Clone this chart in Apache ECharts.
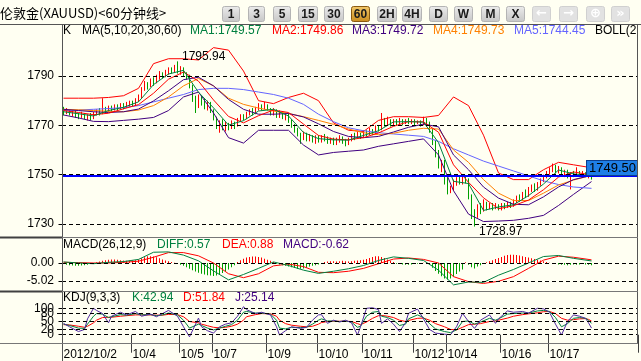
<!DOCTYPE html>
<html><head><meta charset="utf-8">
<script src="https://cdn.jsdelivr.net/npm/echarts@6/dist/echarts.min.js"></script>
<style>html,body{margin:0;padding:0;background:#fffff2;}#c{width:641px;height:361px;}</style>
</head><body><div id="c"></div>
<script>
// ---------- DATA ----------
const title = '伦敦金(XAUUSD)<60分钟线>';
const periodButtons = ['1','3','5','15','30','60','2H','4H','D','W','M','X'];
const activeButton = '60';
// candles: [open, close, low, high]
const candles = [
[1776,1775,1774,1777.5],[1775,1776,1774.5,1777],[1776,1774.5,1774,1776.5],[1774.5,1775.5,1773.5,1776],[1775.5,1774,1773,1776],
[1774,1773.5,1772.5,1775],[1773.5,1774.5,1773,1775.5],[1774.5,1773,1772.5,1775],[1773,1774,1772,1774.5],[1774,1773,1772,1775],
[1773,1774.5,1772.5,1775.5],[1774.5,1775.5,1774,1776.5],[1775.5,1775,1774,1777],[1775,1776.5,1774.5,1781],[1776.5,1776,1775,1777.5],
[1776,1777,1775.5,1778],[1777,1776.5,1775.5,1778],[1776.5,1777.5,1776,1778.5],[1777.5,1777,1776,1778.5],[1777,1778,1776.5,1779],
[1778,1777.5,1776.5,1779],[1777.5,1778.5,1777,1779.5],[1778.5,1779,1777.5,1780],[1779,1778.5,1777.5,1780],[1778.5,1780,1778,1781],
[1780,1781.5,1779.5,1782.5],[1781.5,1784.5,1781,1785.5],[1784.5,1786.5,1784,1788],[1786.5,1786,1784.5,1787.5],[1786,1788,1785.5,1789],
[1788,1787.5,1786,1789.5],[1787.5,1789.5,1787,1790.5],[1789.5,1790.5,1788.5,1792],[1790.5,1790,1789,1791.5],[1790,1791.5,1789.5,1792.5],
[1791.5,1792.5,1790.5,1793.5],[1792.5,1792,1791,1793.5],[1792,1793.5,1791.5,1794.5],[1793.5,1792,1791,1795.94],[1792,1793,1790.5,1794],
[1793,1791,1790,1793.5],[1791,1790,1788.5,1791.5],[1790,1786,1785,1790.5],[1786,1781,1779.5,1786.5],[1781,1779,1775,1782],
[1779,1781,1777,1782.5],[1781,1779.5,1778,1782],[1779.5,1778,1776.5,1781],[1778,1779,1776,1780],[1779,1776,1775,1779.5],
[1776,1773,1772,1776.5],[1773,1770,1768.5,1773.5],[1770,1771.5,1767,1772],[1771.5,1769,1768,1772.5],[1769,1770.5,1767.5,1771.5],
[1770.5,1769.5,1768,1771],[1769.5,1771,1768.5,1772],[1771,1770,1768.5,1771.5],[1770,1772,1769.5,1773],[1772,1773.5,1771.5,1774.5],
[1773.5,1773,1772,1774.5],[1773,1774.5,1772.5,1775.5],[1774.5,1775.5,1774,1776.5],[1775.5,1775,1774,1777],[1775,1776.5,1774.5,1777.5],
[1776.5,1777.5,1776,1779],[1777.5,1777,1776,1778.5],[1777,1778,1776.5,1779.5],[1778,1776.5,1776,1778.5],[1776.5,1775,1774,1777],
[1775,1776,1774,1777],[1776,1774,1773,1776.5],[1774,1775,1773,1776],[1775,1773.5,1772.5,1775.5],[1773.5,1774.5,1772,1775],
[1774.5,1772,1771,1775],[1772,1770,1769,1772.5],[1770,1768,1767,1770.5],[1768,1766.5,1765.5,1769],[1766.5,1765,1762.5,1767],
[1765,1766,1764,1767.5],[1766,1764.5,1763.5,1767],[1764.5,1765.5,1763.5,1766.5],[1765.5,1764,1763,1766],[1764,1765,1762.5,1766],
[1765,1764,1763,1766],[1764,1765,1763,1766],[1765,1764.5,1763.5,1766.5],[1764.5,1763.5,1762.5,1765.5],[1763.5,1764.5,1762.5,1765],
[1764.5,1763,1762,1765],[1763,1764,1762,1765],[1764,1765,1763,1766],[1765,1764,1762.5,1765.5],[1764,1763,1761.5,1764.5],
[1763,1764,1762,1765],[1764,1765.5,1763.5,1766.5],[1765.5,1765,1764,1767],[1765,1766.5,1764.5,1767.5],[1766.5,1765.5,1764.5,1767],
[1765.5,1767,1765,1768],[1767,1766.5,1765.5,1768],[1766.5,1768,1766,1769],[1768,1767,1766,1768.5],[1767,1769,1766.5,1770],
[1769,1768.5,1767.5,1770],[1768.5,1772,1768,1775],[1772,1771,1769.5,1773],[1771,1772,1770,1773.5],[1772,1770.5,1769.5,1772.5],
[1770.5,1771.5,1770,1772.5],[1771.5,1771,1770,1772.5],[1771,1772,1770.5,1773],[1772,1771,1770,1772.5],[1771,1772,1770.5,1772.5],
[1772,1771.5,1770.5,1773],[1771.5,1772,1770.5,1772.5],[1772,1771,1770,1772.5],[1771,1771.5,1770.5,1772],[1771.5,1770.5,1769.5,1772],
[1770.5,1771.5,1770,1773.5],[1771.5,1771,1769.5,1773],[1771,1768,1767,1771.5],[1768,1763,1762,1768.5],[1763,1759,1757,1764],
[1759,1754,1752.5,1760],[1754,1755,1751,1756],[1755,1748,1746,1756],[1748,1743,1742,1749],[1743,1744.5,1742.5,1745.5],
[1744.5,1746,1743.5,1748],[1746,1748,1745.5,1749],[1748,1747,1746,1749.5],[1747,1748.5,1746,1750],[1748.5,1747.5,1746.5,1749.5],
[1747.5,1741,1740,1748.5],[1741,1734,1732,1742],[1734,1733,1728.97,1736],[1733,1737,1732.5,1738],[1737,1735.5,1734,1738.5],
[1735.5,1738,1735,1740],[1738,1736.5,1735.5,1739],[1736.5,1737.5,1736,1738.5],[1737.5,1736.5,1735.5,1738.5],[1736.5,1737.5,1736,1738.5],
[1737.5,1736.5,1735.5,1738],[1736.5,1737.5,1735.5,1738.5],[1737.5,1737,1736,1738.5],[1737,1738,1736.5,1739],[1738,1737.5,1736.5,1739],
[1737.5,1739,1737,1740],[1739,1740.5,1738.5,1741.5],[1740.5,1740,1739,1742],[1740,1742,1739.5,1743],[1742,1741.5,1740.5,1744],
[1741.5,1743.5,1741,1745],[1743.5,1744.5,1743,1746],[1744.5,1744,1743,1746.5],[1744,1746,1743.5,1747],[1746,1747.5,1745.5,1748.5],
[1747.5,1749,1747,1750],[1749,1750.5,1748.5,1751.5],[1750.5,1752,1750,1753],[1752,1753,1751,1754.5],[1753,1751.5,1750.5,1754],
[1751.5,1752.5,1750.5,1753.5],[1752.5,1750.5,1749.5,1753],[1750.5,1751,1749,1752],[1751,1749.5,1748.5,1752],[1749.5,1750.5,1744,1751],
[1750.5,1750,1749,1751.5],[1750,1751,1749.5,1753],[1751,1750,1749,1751.5],[1750,1750.5,1749.5,1751.5],[1750.5,1749.5,1749,1751],
[1749.5,1750,1748.5,1751],[1750,1749.5,1748,1750.5]
];
const extremeIdx = [38, 137];
const extremeVal = [1795.94, 1728.97];
const lastPrice = 1749.50;

// moving averages & bollinger (sampled at maIdx candle positions)
const maIdx = [0,5,10,15,20,25,30,35,40,45,50,55,60,65,70,75,80,85,90,95,100,105,110,115,120,125,130,135,140,145,150,155,160,165,170,176];
const ma1 = [1775.5,1774.7,1773.8,1776,1777.3,1779.5,1786.5,1790.8,1792.3,1783.4,1777.1,1770.1,1771.9,1775.8,1776.5,1773.8,1767.1,1764.6,1764.1,1764,1765.9,1767.8,1771.4,1771.5,1771.3,1763,1747.3,1746.4,1735.5,1736.9,1737.8,1741.5,1746.2,1751.9,1750.3,1749.57];
const ma2 = [1776,1775.2,1774.3,1774.9,1776.7,1778.4,1783,1788.7,1791.6,1787.9,1780.3,1773.6,1771,1773.9,1776.2,1775.2,1770.5,1765.9,1764.4,1764.1,1765,1766.9,1769.6,1771.5,1771.4,1767.2,1754,1746.9,1740.6,1736.2,1737.4,1739.7,1743.9,1749,1751.1,1749.86];
const ma3 = [1776.5,1776,1775.5,1775.2,1775.5,1776.6,1779.9,1784,1788.5,1789.5,1786,1780.5,1776.5,1774.5,1774.5,1774.8,1773.4,1770.6,1767.5,1765.5,1765,1765.5,1767.3,1769.2,1770.5,1769.4,1758,1752,1745,1740.5,1738,1737.8,1741,1745,1748,1749.72];
const ma4 = [1776.5,1776.3,1776,1775.7,1775.5,1776.2,1778,1781.5,1786,1789,1786,1781,1778.5,1777,1775.8,1774.8,1773.5,1772,1770.4,1768.5,1767,1766.2,1766.8,1768,1768.8,1768.5,1760,1755,1748,1742.5,1739.5,1739.5,1742.5,1745.8,1747.8,1749.73];
const ma5 = [1776,1776.2,1776.5,1776.8,1777.2,1778,1779.5,1781,1782.5,1784.5,1785,1785,1784.5,1783.5,1782.5,1781,1778.5,1774.5,1771.5,1769,1767.8,1767,1766.5,1766,1765.5,1763.5,1760.5,1758,1755.5,1753.5,1751.5,1749.5,1747.5,1746,1745,1744.45];
const bollUp = [1781,1781,1781,1781.3,1782,1785,1795,1797,1797,1796.5,1801.5,1800.5,1792,1780,1778.8,1781.3,1783,1780,1771,1768,1767.5,1772,1773.5,1773.5,1773.2,1774,1781.5,1778,1766,1750.7,1748,1748,1752,1755,1754,1752.8];
const bollLo = [1774.2,1773,1771.6,1771.5,1772,1772.5,1773.2,1776,1781.5,1783.5,1775,1765,1762.8,1768,1768,1768,1762,1758,1759,1759.5,1760,1761.5,1762.5,1763.5,1764.5,1758,1743.5,1734,1731,1731.2,1731.5,1732.3,1733.5,1737.5,1742,1747.2];

// MACD
const macdHist = [
-0.3,-0.5,-0.6,-0.7,-0.8,-0.8,-0.7,-0.6,-0.5,-0.3,-0.2,
0.2,0.4,0.6,0.8,0.9,1.0,1.0,0.9,0.8,0.7,0.6,0.6,0.7,0.8,1.0,1.3,1.6,1.9,1.9,1.8,1.6,1.3,
1.0,0.7,0.5,0.3,0.1,-0.2,-0.5,-0.8,
-1.2,-1.6,-2.0,-2.4,-2.7,-3.0,-3.2,-3.4,-3.5,-3.6,-3.5,-3.2,-2.8,-2.3,-1.8,-1.2,-0.6,
0.3,0.8,1.2,1.5,1.7,1.8,1.8,1.7,1.5,1.2,0.9,0.6,0.3,
-0.2,-0.4,-0.6,-0.8,-1.0,-1.2,-1.4,-1.6,-1.6,-1.5,-1.3,-1.0,-0.8,-0.6,-0.4,-0.2,
0.3,0.4,0.5,0.5,0.4,0.5,0.6,0.5,0.4,0.5,0.6,0.7,0.8,0.9,
1.1,1.4,1.7,1.9,1.9,1.7,1.4,1.0,0.6,0.3,
-0.2,-0.3,-0.4,-0.5,-0.5,-0.4,-0.3,-0.2,-0.1,0.1,0.2,
-0.5,-1.3,-2.2,-3.0,-3.7,-4.3,-4.6,-4.3,-3.8,-3.1,-2.4,-1.8,
0.2,-0.5,-1.2,-1.5,-1.0,
-0.6,-0.3,0.2,0.5,0.8,
1.1,1.4,1.7,2.0,2.2,2.3,2.3,2.2,2.1,1.9,1.7,1.5,1.3,1.1,0.9,0.7,0.5,
0.3,0.1,-0.1,-0.3,-0.4,-0.5,
-0.5,-0.6,-0.5,-0.4,-0.5,-0.4,-0.3,-0.4,-0.5,-0.62];
const diff = [0.3,0.0,-0.2,0.2,0.4,1.0,3.0,3.1,2.2,0.6,-2.2,-4.7,-3.2,-1.5,0.3,-0.7,-2.0,-2.9,-2.3,-1.6,-0.7,0.7,1.7,1.3,0.7,-2.0,-6.1,-5.3,-5.4,-3.4,-1.8,0.0,1.8,2.1,1.3,0.57];
const dea = [0.2,0.1,0.0,0.0,0.2,0.5,1.6,2.9,2.9,2.0,0.0,-3.0,-4.1,-3.0,-0.8,-0.3,-1.0,-2.6,-2.7,-2.3,-1.5,-0.2,1.1,1.4,1.0,0.0,-3.8,-5.2,-5.7,-5.1,-3.8,-1.5,0.8,1.9,1.6,0.88];

// KDJ
const kdjIdx = [0,2,5,7,8,10,11,13,15,16,19,21,24,26,29,31,33,35,38,40,42,45,46,48,50,52,54,56,58,60,61,64,66,69,71,72,74,76,79,81,83,85,86,88,90,92,94,96,98,99,101,103,105,106,108,110,112,114,115,118,120,122,124,127,129,131,133,135,137,139,142,144,145,148,150,153,155,158,160,162,164,166,168,170,172,174,175,176];
const kVals = [40,35,25,24,40,70,80,78,65,68,76,74,80,75,76,72,75,82,75,55,25,40,35,25,18,25,32,38,55,85,88,82,82,78,55,25,22,28,27,28,40,55,60,52,52,50,52,48,28,32,70,85,88,70,65,55,35,40,60,75,65,42,22,12,8,18,50,52,40,48,62,55,60,78,80,82,82,90,92,88,65,30,42,62,65,62,55,42.94];
const dVals = [38,37,32,28,32,45,55,65,66,66,70,72,75,75,75,74,74,77,76,68,50,45,40,34,28,26,28,32,40,55,68,76,80,79,70,55,42,36,32,30,32,40,46,50,51,51,51,50,42,38,48,62,72,73,70,65,55,50,54,62,63,55,42,30,20,18,28,38,40,42,50,52,55,63,70,76,79,83,87,88,80,62,55,57,60,61,58,51.84];
const jVals = [43,30,12,20,60,100,92,80,45,70,85,75,88,70,78,68,80,92,70,30,-8,63,30,15,6,30,40,45,70,106,95,80,85,75,30,-1,15,30,24,28,55,75,76,43,55,48,55,45,-1,30,100,102,95,43,60,40,12,45,81,97,60,20,6,2,0,30,81,50,24,55,75,43,60,90,85,88,82,100,98,85,40,-1,50,75,70,62,45,25.14];

// axis ticks / labels
const priceTicks = [1730,1750,1770,1790];
const macdTicks = [-5.02, 0];
const kdjTicks = [0,20,50,80,100];
const kdjTicksA = [0,50,100];   // label set drawn on first KDJ axis
const kdjTicksB = [20,80];      // label set drawn on overlapping second KDJ axis
const dateLabels = ['2012/10/2','10/4','10/5','10/7','10/9','10/10','10/11','10/12','10/14','10/16','10/17'];
const dateIdx = [0,23,39,50,68,85,100,117,128,146,162];

// legends
const mainLegend = ['K','MA(5,10,20,30,60)','MA1:1749.57','MA2:1749.86','MA3:1749.72','MA4:1749.73','MA5:1744.45','BOLL(20,2)'];
const macdLegend = ['MACD(26,12,9)','DIFF:0.57','DEA:0.88','MACD:-0.62'];
const kdjLegend = ['KDJ(9,3,3)','K:42.94','D:51.84','J:25.14'];

// ---------- STYLE / LAYOUT ----------
const N_CAT = 192;
const FONT = '"Liberation Sans", Arial, sans-serif';
const GREEN = '#008040', RED = '#ff0000', PURPLE = '#400080', ORANGE = '#ff8000', BLUE5 = '#6464ff', CGREEN = '#00a000', JPURPLE = '#5028a0';
const BG = '#fffff2';

const cats = Array.from({length: N_CAT}, (_, i) => String(i));
const pts = (idx, vals) => idx.map((x, k) => [x, vals[k]]);
const dashLine = v => ({yAxis: v, lineStyle: {color: '#000', type: [4, 3], width: 1}});
const mk = (data) => ({silent: true, symbol: ['none', 'none'], animation: false, label: {show: false}, emphasis: {disabled: true}, data});

function line(name, xi, yi, data, color) {
  return {type: 'line', name, xAxisIndex: xi, yAxisIndex: yi, data, symbol: 'none', showSymbol: false,
    lineStyle: {color, width: 1}, itemStyle: {color}, animation: false, silent: true, z: 3};
}

const grids = [
  {left: 62, top: 24, width: 576, height: 213},
  {left: 62, top: 238, width: 576, height: 53},
  {left: 62, top: 292, width: 576, height: 51}
];

const xAxes = [];
[0, 1, 2].forEach(g => {
  const isDate = g === 2;
  xAxes.push({type: 'category', gridIndex: g, data: cats, boundaryGap: true,
    axisLine: {show: false}, splitLine: {show: false},
    axisTick: {show: isDate, interval: (i) => dateIdx.indexOf(i) >= 0, length: 18, lineStyle: {color: '#404040'}},
    axisLabel: {show: isDate, interval: (i) => dateIdx.indexOf(i) >= 0,
      formatter: (v, i) => { const k = dateIdx.indexOf(Number(v)); return k >= 0 ? dateLabels[k] : ''; },
      align: 'left', margin: 6, fontSize: 12, color: '#000', fontFamily: FONT}});
  xAxes.push({type: 'value', gridIndex: g, min: -0.5, max: N_CAT - 0.5, show: false});
});

function yax(g, min, max, ticks, fmt) {
  return {type: 'value', gridIndex: g, min, max, position: 'left', scale: true,
    axisLine: {show: false}, splitLine: {show: false},
    axisTick: {show: true, customValues: ticks, length: 5, lineStyle: {color: '#000'}},
    axisLabel: {show: true, customValues: ticks, hideOverlap: false, showMinLabel: true, showMaxLabel: true,
      fontSize: 12, color: '#000', fontFamily: FONT, margin: 8, formatter: fmt}};
}
const yAxes = [
  yax(0, 1724.73, 1811.08, priceTicks, v => String(Math.round(v))),
  yax(1, -7.809, 6.972, macdTicks, v => v.toFixed(2)),
  yax(2, -31.4, 161.7, kdjTicksA, v => String(Math.round(v))),
  yax(2, -31.4, 161.7, kdjTicksB, v => String(Math.round(v)))
];

const series = [
  line('BOLL-UP', 1, 0, pts(maIdx, bollUp), RED),
  line('BOLL-LO', 1, 0, pts(maIdx, bollLo), PURPLE),
  line('MA5', 1, 0, pts(maIdx, ma5), BLUE5),
  {type: 'candlestick', name: 'K', xAxisIndex: 0, yAxisIndex: 0, data: candles, barWidth: 1, animation: false, silent: true, z: 2,
    itemStyle: {color: RED, color0: CGREEN, borderColor: RED, borderColor0: CGREEN, borderWidth: 1},
    markLine: mk(priceTicks.map(dashLine).concat([{yAxis: lastPrice,
      lineStyle: {color: '#0000ff', type: 'solid', width: 2},
      label: {show: true, position: 'insideEndTop', distance: [1, 1], formatter: lastPrice.toFixed(2),
        backgroundColor: '#1e7fe6', borderColor: '#0b3f8f', borderWidth: 1, padding: [1, 1, 0, 2],
        color: '#000', fontSize: 13, fontFamily: FONT}}])),
    markPoint: {symbol: 'circle', symbolSize: 1, silent: true, animation: false, itemStyle: {color: 'rgba(0,0,0,0)'},
      data: extremeIdx.map((ix, k) => ({coord: [ix, extremeVal[k]],
        label: {show: true, position: 'right', formatter: extremeVal[k].toFixed(2), offset: [-1, k === 0 ? -5 : 5],
          color: '#000', fontSize: 12, fontFamily: FONT}}))}
  },
  line('MA4', 1, 0, pts(maIdx, ma4), ORANGE),
  line('MA3', 1, 0, pts(maIdx, ma3), PURPLE),
  line('MA2', 1, 0, pts(maIdx, ma2), RED),
  line('MA1', 1, 0, pts(maIdx, ma1), GREEN),
  {type: 'bar', name: 'MACD', xAxisIndex: 2, yAxisIndex: 1, barWidth: 1, animation: false, silent: true,
    data: macdHist.map(v => ({value: v, itemStyle: {color: v >= 0 ? RED : CGREEN}})),
    markLine: mk(macdTicks.map(dashLine))},
  line('DEA', 3, 1, pts(maIdx, dea), RED),
  line('DIFF', 3, 1, pts(maIdx, diff), GREEN),
  Object.assign(line('D', 5, 2, pts(kdjIdx, dVals), RED), {markLine: mk(kdjTicks.map(dashLine))}),
  line('K', 5, 2, pts(kdjIdx, kVals), GREEN),
  line('J', 5, 2, pts(kdjIdx, jVals), JPURPLE)
];

// ---------- GRAPHICS (frame, header, legends) ----------
const graphics = [];
const L = (x1, y1, x2, y2, c, w) => graphics.push({type: 'line', silent: true, z: 100,
  shape: {x1, y1, x2, y2}, style: {stroke: c || '#6a6a6a', lineWidth: w || 1}});
const T = (x, y, text, color, extra) => graphics.push({type: 'text', silent: true, z: 101, x, y,
  style: Object.assign({text, fill: color || '#000', fontSize: 12, fontFamily: FONT, align: 'left', verticalAlign: 'middle'}, extra || {})});

L(0, 24.5, 641, 24.5, '#555');
L(62.5, 24.5, 62.5, 361, '#555');
L(637.5, 24.5, 637.5, 343.5, '#555');
L(0, 237.5, 638, 237.5, '#777');
L(0, 291.5, 638, 291.5, '#777');
L(0, 343.5, 638, 343.5, '#777');
L(0, 237.5, 62, 237.5, '#404040', 2);
L(0, 291.5, 62, 291.5, '#404040', 2);

T(0, 13, title, '#000', {fontSize: 13, fontFamily: '"Noto Sans CJK SC", sans-serif'});

const btnX = [222, 248, 273, 298, 324, 351, 377, 402, 429, 454, 481, 506];
const btnW = [17, 16, 17, 19, 19, 18, 19, 19, 18, 18, 18, 18];
periodButtons.forEach((b, k) => {
  const act = b === activeButton;
  graphics.push({type: 'rect', silent: true, z: 100, shape: {x: btnX[k] + 0.5, y: 6.5, width: btnW[k], height: 15, r: 2},
    style: {fill: {type: 'linear', x: 0, y: 0, x2: 0, y2: 1, colorStops: act
      ? [{offset: 0, color: '#f3c96a'}, {offset: 1, color: '#c98c1e'}]
      : [{offset: 0, color: '#ececec'}, {offset: 1, color: '#c6c6c6'}]}, stroke: act ? '#8a5a10' : '#b4b4b4', lineWidth: 1}});
  T(btnX[k] + btnW[k] / 2 + 0.5, 14.5, b, '#1a1a1a', {align: 'center', fontWeight: 'bold', fontSize: 12});
});
const iconGlyphs = ['\u2190', '\u2192', '\u2295', '\u00bb'];
const iconX = [532, 559, 586, 611];
iconGlyphs.forEach((g, k) => {
  graphics.push({type: 'rect', silent: true, z: 100, shape: {x: iconX[k] + 0.5, y: 6.5, width: 18, height: 15, r: 2},
    style: {fill: '#e2e2e2', stroke: '#d0d0d0', lineWidth: 1}});
  T(iconX[k] + 9.5, 14, g, '#ffffff', {align: 'center', fontWeight: 'bold', fontSize: 13, fontFamily: '"DejaVu Sans", sans-serif'});
});

const mainLegendX = [63, 82, 190, 272, 352, 433, 514, 595];
const mainLegendC = ['#000', '#000', GREEN, RED, PURPLE, ORANGE, BLUE5, '#000'];
mainLegend.forEach((t, k) => T(mainLegendX[k], 31, t, mainLegendC[k],
  k === mainLegend.length - 1 ? {width: 45, overflow: 'truncate', ellipsis: ''} : {}));
const macdLegendX = [63, 157, 222, 283];
const macdLegendC = ['#000', GREEN, RED, PURPLE];
macdLegend.forEach((t, k) => T(macdLegendX[k], 245, t, macdLegendC[k]));
const kdjLegendX = [63, 132, 183, 235];
const kdjLegendC = ['#000', GREEN, RED, PURPLE];
kdjLegend.forEach((t, k) => T(kdjLegendX[k], 298, t, kdjLegendC[k]));

const chart = echarts.init(document.getElementById('c'), null, {renderer: 'canvas', width: 641, height: 361});
chart.setOption({
  backgroundColor: BG,
  animation: false,
  grid: grids,
  xAxis: xAxes,
  yAxis: yAxes,
  series,
  graphic: {elements: graphics}
});
</script>
</body></html>
